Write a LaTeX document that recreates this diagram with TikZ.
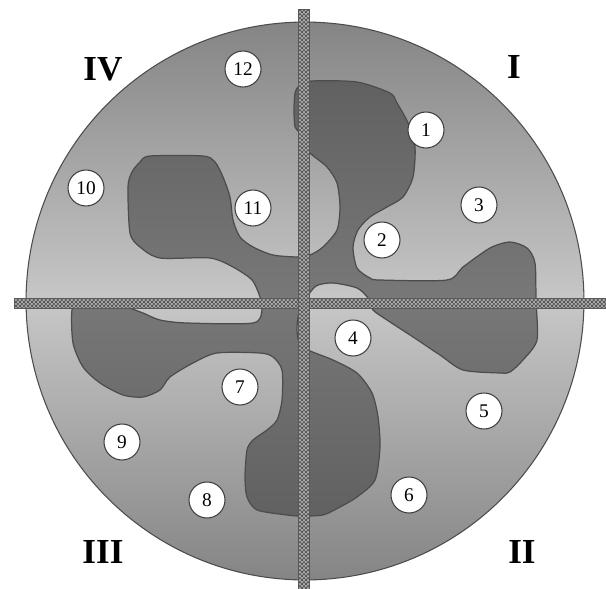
\documentclass[tikz,border=0pt]{standalone}
\usepackage{fontspec}
\setmainfont{Liberation Serif}
\usetikzlibrary{patterns}
\definecolor{discedge}{gray}{0.52}
\definecolor{discmid}{gray}{0.78}
\definecolor{blobedge}{gray}{0.38}
\definecolor{blobmid}{gray}{0.47}
\pgfdeclarepatternformonly{finecheck}{\pgfpointorigin}{\pgfpoint{2.2pt}{2.2pt}}{\pgfpoint{2.2pt}{2.2pt}}{%
  \pgfpathrectangle{\pgfpointorigin}{\pgfpoint{1.1pt}{1.1pt}}%
  \pgfpathrectangle{\pgfpoint{1.1pt}{1.1pt}}{\pgfpoint{1.1pt}{1.1pt}}%
  \pgfusepath{fill}%
}
\begin{document}
\begin{tikzpicture}[x=0.02cm, y=-0.02cm,
  spot/.style={circle, draw=black!75, fill=white, line width=0.6pt, minimum size=0.72cm, inner sep=0pt, font=\fontsize{11}{11}\selectfont},
  quad/.style={font=\fontsize{20}{20}\selectfont\bfseries},
  blob/.style={draw=black!70, line width=0.7pt, top color=blobedge, bottom color=blobedge, middle color=blobmid},
  bar/.style={draw=black!65, line width=0.4pt, preaction={fill=black!35}, pattern=finecheck, pattern color=black!65}]
\useasboundingbox[fill=white] (0,0) rectangle (606,589);
% disc
\shade[top color=discedge, bottom color=discedge, middle color=discmid] (305,301) circle [radius=5.58cm];
\draw[black!70, line width=0.6pt] (305,301) circle [radius=5.58cm];
% pinwheel
\draw[blob] plot[smooth cycle, tension=0.45] coordinates {
  (300,133) (295,127) (294,110) (295,93) (299,86) (312,81) (357,82) (390,93) (397,103)
  (408,123) (415,147) (413,177) (403,197) (387,207) (370,217) (358,230) (353,247)
  (357,268) (370,278) (380,280) (447,280) (463,267) (490,248) (510,242) (527,248)
  (535,263) (536,300) (537,340) (523,360) (510,372) (500,373) (463,370) (440,355)
  (410,335) (387,320) (373,310) (368,298) (357,288) (333,283) (316,286) (305,300)
  (299,312) (297,328) (299,342) (308,350) (333,360) (357,373) (372,393) (378,417)
  (380,447) (375,480) (357,497) (340,507) (323,515) (300,516) (287,515) (257,510)
  (247,497) (245,477) (247,450) (253,440) (267,430) (277,420) (282,400) (282,370)
  (273,357) (260,353) (217,353) (193,363) (170,377) (160,390) (143,397) (123,395)
  (100,383) (83,367) (73,343) (72,310) (80,303) (120,303) (127,307) (143,313)
  (160,320) (187,323) (253,323) (262,310) (260,297) (252,280) (233,267) (210,258)
  (160,258) (140,247) (130,233) (128,187) (132,172) (140,162) (150,156) (203,156)
  (215,162) (223,177) (230,197) (233,220) (240,237) (253,247) (273,255) (298,257)
  (310,255) (323,247) (337,230) (340,207) (337,183) (327,167) (310,153) (304,142)};
% axes
\draw[bar] (14,298) rectangle (606,308);
\draw[bar] (298.5,9) rectangle (309.5,589);
% quadrants
\node[quad] (q1) at (514,67) {I};
\node[quad] (q2) at (522,552) {II};
\node[quad] (q3) at (103,552) {III};
\node[quad] (q4) at (103,69) {IV};
% sites
\node[spot] (s1) at (426,130) {1};
\node[spot] (s2) at (382,240) {2};
\node[spot] (s3) at (479,205) {3};
\node[spot] (s4) at (353,338) {4};
\node[spot] (s5) at (484,411) {5};
\node[spot] (s6) at (409,495) {6};
\node[spot] (s7) at (240,387) {7};
\node[spot] (s8) at (207,500) {8};
\node[spot] (s9) at (122,442) {9};
\node[spot] (s10) at (86,188) {10};
\node[spot] (s11) at (253,208) {11};
\node[spot] (s12) at (243,69) {12};
\end{tikzpicture}
\end{document}
